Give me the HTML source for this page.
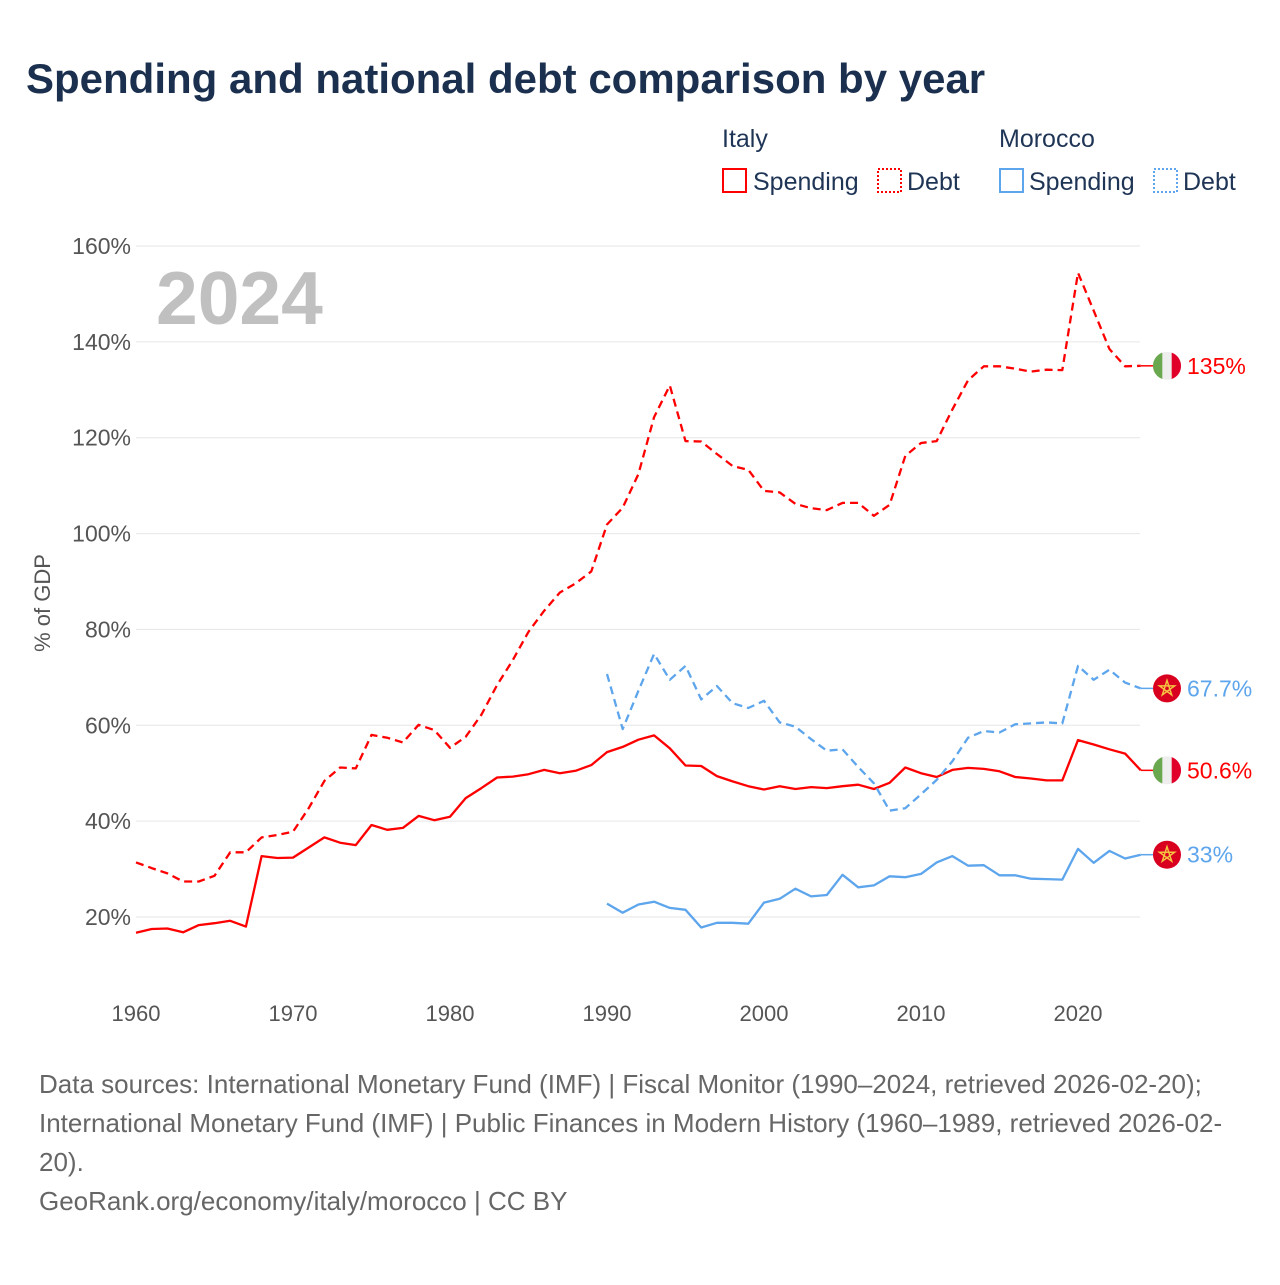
<!DOCTYPE html>
<html><head><meta charset="utf-8">
<style>
body{margin:0;background:#fff;}
svg text{font-family:"Liberation Sans",sans-serif;}
</style></head>
<body>
<svg id="chart" width="1280" height="1280" xmlns="http://www.w3.org/2000/svg">
<rect width="1280" height="1280" fill="#fff"/>
<text x="26" y="93" font-size="42" font-weight="bold" fill="#1b2f4e">Spending and national debt comparison by year</text>
<g fill="#1f3556" font-size="25">
<text x="722" y="147">Italy</text>
<text x="999" y="147">Morocco</text>
<g><rect x="723" y="169" width="23" height="23" fill="none" stroke="#f00" stroke-width="2"/><text x="753" y="190">Spending</text></g>
<g><rect x="878" y="169" width="23" height="23" fill="none" stroke="#f00" stroke-width="2" stroke-dasharray="2,2"/><text x="907" y="190">Debt</text></g>
<g><rect x="1000" y="169" width="23" height="23" fill="none" stroke="#5da5ec" stroke-width="2"/><text x="1029" y="190">Spending</text></g>
<g><rect x="1154" y="169" width="23" height="23" fill="none" stroke="#5da5ec" stroke-width="2" stroke-dasharray="2,2"/><text x="1183" y="190">Debt</text></g>
</g>
<text x="156" y="324" font-size="75" font-weight="bold" fill="#c0c0c0">2024</text>
<text transform="translate(50,603) rotate(-90)" text-anchor="middle" font-size="22" fill="#555">% of GDP</text>
<g id="grid"></g><g id="yticks"></g><g id="xticks"></g><g id="series"></g><g id="endlabels"></g>
<g font-size="26" fill="#666">
<text x="39" y="1093">Data sources: International Monetary Fund (IMF) | Fiscal Monitor (1990–2024, retrieved 2026-02-20);</text>
<text x="39" y="1132">International Monetary Fund (IMF) | Public Finances in Modern History (1960–1989, retrieved 2026-02-</text>
<text x="39" y="1171">20).</text>
<text x="39" y="1210">GeoRank.org/economy/italy/morocco | CC BY</text>
</g>
</svg>
<script>
const yTicks=[20,40,60,80,100,120,140,160];
const xTicks=[1960,1970,1980,1990,2000,2010,2020];
const italyStart=1960;
const moroccoStart=1990;
const italySpending=[16.7,17.5,17.6,16.8,18.3,18.7,19.2,18.0,32.7,32.3,32.4,34.5,36.6,35.5,35.0,39.2,38.2,38.6,41.1,40.2,40.9,44.8,46.9,49.1,49.3,49.8,50.7,50.0,50.5,51.7,
54.4,55.5,57.0,57.9,55.2,51.6,51.5,49.4,48.3,47.3,46.6,47.3,46.7,47.1,46.9,47.3,47.6,46.7,48.0,51.2,50.0,49.2,50.7,51.1,50.9,50.4,49.2,48.9,48.5,48.5,56.9,56.0,55.0,54.1,50.6];
const italyDebt=[31.4,30.2,29.1,27.4,27.4,28.6,33.5,33.5,36.6,37.1,37.8,42.7,48.4,51.2,51.0,58.0,57.4,56.4,60.1,59.0,55.3,57.6,62.2,68.4,73.6,79.5,83.9,87.7,89.6,92.1,
101.9,105.4,112.4,124.3,130.9,119.3,119.2,116.6,114.1,113.3,108.9,108.6,106.2,105.3,104.9,106.4,106.4,103.7,106.0,116.2,118.9,119.3,125.9,132.0,134.9,134.9,134.4,133.8,134.2,134.1,154.4,146.5,138.5,134.9,135.0];
const moroccoSpending=[22.8,20.9,22.6,23.2,21.9,21.5,17.8,18.8,18.8,18.6,23.0,23.8,25.9,24.3,24.6,28.8,26.2,26.6,28.5,28.3,29.0,31.4,32.7,30.7,30.8,28.7,28.7,28.0,27.9,27.8,34.2,31.3,33.8,32.2,33.0];
const moroccoDebt=[70.7,59.2,67.2,74.9,69.5,72.4,65.4,68.2,64.6,63.6,65.1,60.6,59.7,57.1,54.7,55.0,51.3,47.9,42.2,42.7,45.6,48.6,52.5,57.4,58.8,58.5,60.2,60.4,60.6,60.4,72.4,69.5,71.6,68.9,67.7];
const endLabels=["135%","67.7%","50.6%","33%"];

const NS="http://www.w3.org/2000/svg";
function X(yr){return 136+(yr-1960)*(1078-136)/60;}
function Y(v){return 917-(v-20)*(917-246)/140;}
function mk(tag,attrs,parent){const e=document.createElementNS(NS,tag);for(const k in attrs)e.setAttribute(k,attrs[k]);parent.appendChild(e);return e;}
const grid=document.getElementById('grid'),yt=document.getElementById('yticks'),xt=document.getElementById('xticks'),ser=document.getElementById('series'),el=document.getElementById('endlabels');
yTicks.forEach(v=>{
  const l=mk('line',{x1:136,x2:1140,y1:Y(v),y2:Y(v),stroke:'#e6e6e6','stroke-width':1},grid);
  
  
  const t=mk('text',{x:131,y:Y(v)+8,'text-anchor':'end','font-size':23,fill:'#555'},yt);
  t.textContent=v+'%';
  
  
});
xTicks.forEach(yr=>{
  const t=mk('text',{x:X(yr),y:1021,'text-anchor':'middle','font-size':22,fill:'#555'},xt);
  t.textContent=yr;
  
  
});
function line(data,start,color,dash,name){
  const pts=data.map((v,i)=>X(start+i).toFixed(1)+','+Y(v).toFixed(1)).join(' ');
  const p=mk('polyline',{points:pts,fill:'none',stroke:color,'stroke-width':2.3,'stroke-linejoin':'round'},ser);
  if(dash)p.setAttribute('stroke-dasharray',dash);
  
  
}
line(italyDebt,italyStart,'#ff0000','8,5','italy-debt-line');
line(italySpending,italyStart,'#ff0000',null,'italy-spending-line');
line(moroccoDebt,moroccoStart,'#5da5ec','8,5','morocco-debt-line');
line(moroccoSpending,moroccoStart,'#5da5ec',null,'morocco-spending-line');
const lastIt=italyDebt.length-1,lastMo=moroccoDebt.length-1;
const ends=[[italyDebt[lastIt],'#ff0000','it'],[moroccoDebt[lastMo],'#5da5ec','ma'],[italySpending[lastIt],'#ff0000','it'],[moroccoSpending[lastMo],'#5da5ec','ma']];
ends.forEach((e,i)=>{
  const y=Y(e[0]),cx=1167;
  mk('line',{x1:1141,x2:1153,y1:y,y2:y,stroke:e[1],'stroke-width':1.5},el);
  const g=mk('g',{},el);
  
  
  if(e[2]==='it'){
    mk('circle',{cx:cx,cy:y,r:14,fill:'#eeeeee'},g);
    mk('path',{d:`M${cx-4.7},${y-13.2} A14,14 0 0 0 ${cx-4.7},${y+13.2} Z`,fill:'#6aa84f'},g);
    mk('path',{d:`M${cx+4.7},${y-13.2} A14,14 0 0 1 ${cx+4.7},${y+13.2} Z`,fill:'#e0002a'},g);
  }else{
    mk('circle',{cx:cx,cy:y,r:14,fill:'#d9001f'},g);
    const s=[];for(let k=0;k<5;k++){const a=-Math.PI/2+k*4*Math.PI/5;s.push((cx+8*Math.cos(a)).toFixed(1)+','+(y+8*Math.sin(a)).toFixed(1));}
    mk('polygon',{points:s.join(' '),fill:'none',stroke:'#f5c242','stroke-width':1.5},g);
  }
  const t=mk('text',{x:1187,y:y+8,'font-size':23,fill:e[1]},el);
  t.textContent=endLabels[i];
  
  
});
</script>
</body></html>
